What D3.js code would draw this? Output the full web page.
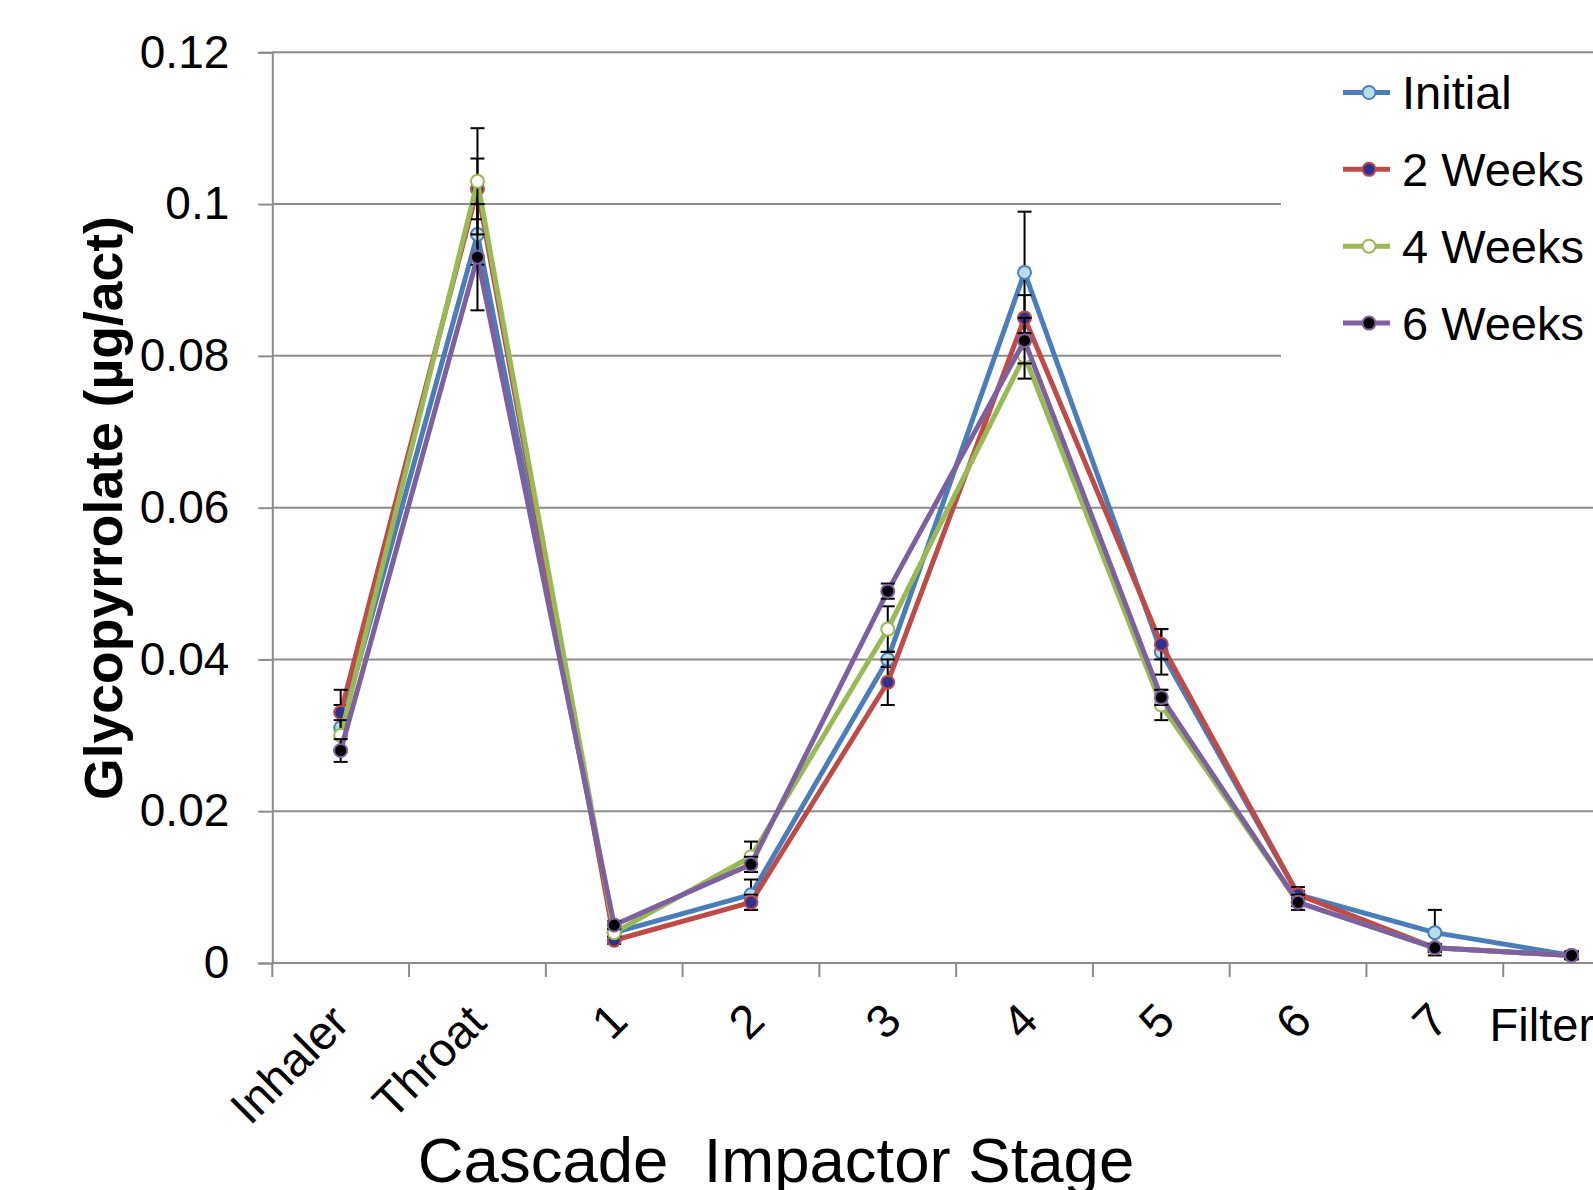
<!DOCTYPE html>
<html>
<head>
<meta charset="utf-8">
<script src="https://cdn.jsdelivr.net/npm/d3@7"></script>
<style>
  html, body { margin: 0; padding: 0; background: #fff; overflow: hidden; }
  svg { display: block; font-family: "Liberation Sans", Arial, sans-serif; }
</style>
</head>
<body>
<svg id="chart" width="1593" height="1190"></svg>
<script>
// ---- Data ----
const categories = ["Inhaler", "Throat", "1", "2", "3", "4", "5", "6", "7", "Filter"];
const seriesNames = ["Initial", "2 Weeks", "4 Weeks", "6 Weeks"];
const initialValues = [0.031, 0.096, 0.004, 0.009, 0.040, 0.091, 0.041, 0.009, 0.004, 0.001];
const initialErrors = [0.003, 0.004, 0.0005, 0.002, 0.001, 0.008, 0.003, 0.0005, 0.003, 0.0005];
const weeks2Values = [0.033, 0.102, 0.003, 0.008, 0.037, 0.085, 0.042, 0.009, 0.002, 0.001];
const weeks2Errors = [0.003, 0.004, 0.0005, 0.001, 0.003, 0.003, 0.002, 0.001, 0.0005, 0.0005];
const weeks4Values = [0.030, 0.103, 0.004, 0.014, 0.044, 0.080, 0.034, 0.008, 0.002, 0.001];
const weeks4Errors = [0.002, 0.007, 0.0005, 0.002, 0.003, 0.003, 0.002, 0.0005, 0.0005, 0.0005];
const weeks6Values = [0.028, 0.093, 0.005, 0.013, 0.049, 0.082, 0.035, 0.008, 0.002, 0.001];
const weeks6Errors = [0.0015, 0.007, 0.0005, 0.001, 0.001, 0.003, 0.001, 0.001, 0.0005, 0.0005];
const yTickValues = [0, 0.02, 0.04, 0.06, 0.08, 0.1, 0.12];
const yTickLabels = ["0", "0.02", "0.04", "0.06", "0.08", "0.1", "0.12"];
const xTitle = "Cascade  Impactor Stage";
const yTitle = "Glycopyrrolate (\u00b5g/act)";

// ---- Styles ----
const lineColors = ["#4A7EBB", "#BE4B48", "#98B954", "#7D60A0"];
const markerFills = ["#B7DEE8", "#2E3192", "#FFFFFF", "#000000"];
const series = [
  { name: seriesNames[0], values: initialValues, errors: initialErrors },
  { name: seriesNames[1], values: weeks2Values, errors: weeks2Errors },
  { name: seriesNames[2], values: weeks4Values, errors: weeks4Errors },
  { name: seriesNames[3], values: weeks6Values, errors: weeks6Errors }
];

const svg = d3.select("#chart");
const plotLeft = 272.3, plotRight = 1640, plotTop = 52.3, plotBottom = 963;
const gridGray = "#8C8C8C";

const x = d3.scaleBand().domain(categories).range([plotLeft, plotRight]).padding(0);
const y = d3.scaleLinear().domain([0, 0.12]).range([plotBottom, plotTop]);
const cx = c => x(c) + x.bandwidth() / 2;

// gridlines
svg.append("g").selectAll("line").data(yTickValues.filter(v => v > 0)).join("line")
  .attr("x1", plotLeft).attr("x2", plotRight)
  .attr("y1", d => y(d)).attr("y2", d => y(d))
  .attr("stroke", gridGray).attr("stroke-width", 2);

// y axis
const yAxis = d3.axisLeft(y).tickValues(yTickValues)
  .tickFormat((d, i) => yTickLabels[i]).tickSize(14).tickPadding(29);
const gy = svg.append("g").attr("transform", `translate(${plotLeft},0)`).call(yAxis);
gy.select(".domain").attr("stroke", gridGray).attr("stroke-width", 2);
gy.selectAll(".tick line").attr("stroke", gridGray).attr("stroke-width", 2);
gy.selectAll(".tick text").attr("font-size", 46).attr("fill", "#000")
  .attr("font-family", "'Liberation Sans', Arial, sans-serif");

// x axis line + ticks at band boundaries
svg.append("line").attr("x1", plotLeft).attr("x2", plotRight).attr("y1", plotBottom).attr("y2", plotBottom)
  .attr("stroke", gridGray).attr("stroke-width", 2);
svg.append("g").selectAll("line").data(categories).join("line")
  .attr("x1", d => x(d)).attr("x2", d => x(d))
  .attr("y1", plotBottom).attr("y2", plotBottom + 14)
  .attr("stroke", gridGray).attr("stroke-width", 2);

// x labels
const xl = svg.append("g").attr("font-size", 47).attr("fill", "#000");
categories.forEach((c, i) => {
  if (c === "Filter") {
    xl.append("text").attr("x", cx(c) - 82).attr("y", 1041).text(c);
  } else if (isNaN(+c)) {
    xl.append("text").attr("text-anchor", "end")
      .attr("transform", `translate(${cx(c) + 11},${1025}) rotate(-45)`)
      .text(c);
  } else {
    xl.append("text").attr("text-anchor", "middle").attr("dy", "0.35em")
      .attr("transform", `translate(${cx(c) - 5},${1021}) rotate(-45)`)
      .text(c);
  }
});

// titles
svg.append("text").attr("x", 776).attr("y", 1182).attr("text-anchor", "middle")
  .attr("font-size", 63.5).style("white-space", "pre")
  .text(xTitle);
svg.append("text").attr("transform", "translate(103.5,508) rotate(-90)")
  .attr("text-anchor", "middle").attr("dy", "0.35em")
  .attr("font-size", 53.5).attr("font-weight", "bold").text(yTitle);

// series
const line = d3.line().x((d, i) => cx(categories[i])).y(d => y(d));
series.forEach((s, si) => {
  const g = svg.append("g");
  g.append("path").datum(s.values).attr("d", line)
    .attr("fill", "none").attr("stroke", lineColors[si]).attr("stroke-width", 5)
    .attr("stroke-linejoin", "round");
  const eb = g.append("g").attr("stroke", "#000").attr("stroke-width", 2);
  s.values.forEach((v, i) => {
    const xx = cx(categories[i]);
    const y1 = y(v + s.errors[i]), y2 = y(v - s.errors[i]);
    eb.append("line").attr("x1", xx).attr("x2", xx).attr("y1", y1).attr("y2", y2);
    eb.append("line").attr("x1", xx - 7).attr("x2", xx + 7).attr("y1", y1).attr("y2", y1);
    eb.append("line").attr("x1", xx - 7).attr("x2", xx + 7).attr("y1", y2).attr("y2", y2);
  });
  g.selectAll("circle").data(s.values).join("circle")
    .attr("cx", (d, i) => cx(categories[i])).attr("cy", d => y(d)).attr("r", 6.5)
    .attr("fill", markerFills[si]).attr("stroke", lineColors[si]).attr("stroke-width", 2);
});

// legend
const lg = svg.append("g");
lg.append("rect").attr("x", 1281).attr("y", 62).attr("width", 320).attr("height", 303).attr("fill", "#fff");
const legendY = d3.scalePoint().domain(seriesNames).range([92.5, 323.1]);
seriesNames.forEach((n, si) => {
  const yy = legendY(n);
  lg.append("line").attr("x1", 1343).attr("x2", 1390).attr("y1", yy).attr("y2", yy)
    .attr("stroke", lineColors[si]).attr("stroke-width", 5);
  lg.append("circle").attr("cx", 1369).attr("cy", yy).attr("r", 6.5)
    .attr("fill", markerFills[si]).attr("stroke", lineColors[si]).attr("stroke-width", 2);
  lg.append("text").attr("x", 1402).attr("y", yy).attr("dy", "0.35em")
    .attr("font-size", 47).text(n);
});
</script>
</body>
</html>
